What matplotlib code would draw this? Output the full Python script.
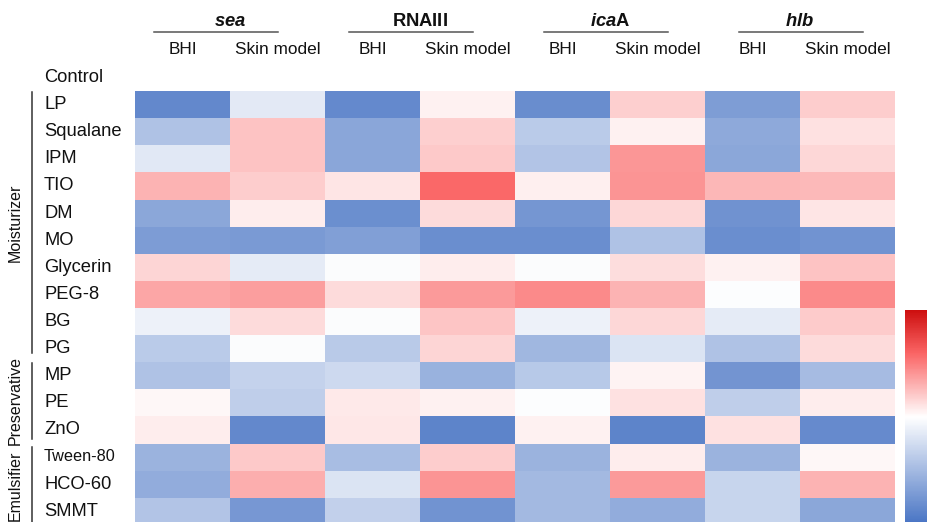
import numpy as np
import matplotlib
matplotlib.use("Agg")
import matplotlib.pyplot as plt
from matplotlib.colors import LinearSegmentedColormap, Normalize
from matplotlib.cm import ScalarMappable
from matplotlib.lines import Line2D
from matplotlib.transforms import blended_transform_factory

plt.rcParams['font.family'] = ['Liberation Sans', 'DejaVu Sans']
plt.rcParams['mathtext.fontset'] = 'custom'
plt.rcParams['mathtext.it'] = 'Liberation Sans:italic:bold'
plt.rcParams['mathtext.bf'] = 'Liberation Sans:bold'

genes = [r"$\mathit{sea}$", r"$\mathbf{RNAIII}$", r"$\mathit{ica}\mathbf{A}$", r"$\mathit{hlb}$"]
media = ["BHI", "Skin model"]
rows = ["Control", "LP", "Squalane", "IPM", "TIO", "DM", "MO", "Glycerin",
        "PEG-8", "BG", "PG", "MP", "PE", "ZnO", "Tween-80", "HCO-60", "SMMT"]
groups = ["Moisturizer", "Preservative", "Emulsifier"]

# relative expression, columns: sea BHI/Skin, RNAIII BHI/Skin, icaA BHI/Skin, hlb BHI/Skin
control = [np.nan] * 8
lp = [-0.85, -0.15, -0.84, 0.05, -0.82, 0.18, -0.70, 0.19]
squalane = [-0.43, 0.23, -0.64, 0.18, -0.37, 0.05, -0.61, 0.11]
ipm = [-0.16, 0.23, -0.64, 0.21, -0.42, 0.40, -0.63, 0.15]
tio = [0.29, 0.19, 0.10, 0.58, 0.06, 0.41, 0.28, 0.27]
dm = [-0.63, 0.07, -0.80, 0.14, -0.75, 0.15, -0.78, 0.10]
mo = [-0.71, -0.72, -0.68, -0.81, -0.81, -0.43, -0.81, -0.77]
glycerin = [0.16, -0.14, -0.02, 0.07, -0.02, 0.13, 0.05, 0.23]
peg8 = [0.34, 0.37, 0.14, 0.39, 0.45, 0.29, -0.01, 0.45]
bg = [-0.10, 0.14, -0.02, 0.22, -0.10, 0.15, -0.14, 0.20]
pg = [-0.37, -0.02, -0.38, 0.16, -0.51, -0.19, -0.43, 0.14]
mp = [-0.43, -0.32, -0.27, -0.55, -0.39, 0.04, -0.76, -0.48]
pe = [0.03, -0.35, 0.08, 0.05, -0.01, 0.11, -0.35, 0.07]
zno = [0.07, -0.85, 0.09, -0.88, 0.05, -0.88, 0.11, -0.83]
tween80 = [-0.54, 0.21, -0.47, 0.19, -0.54, 0.07, -0.54, 0.03]
hco60 = [-0.59, 0.31, -0.19, 0.41, -0.50, 0.39, -0.30, 0.29]
smmt = [-0.42, -0.74, -0.33, -0.77, -0.50, -0.59, -0.30, -0.63]

values = np.array([control, lp, squalane, ipm, tio, dm, mo, glycerin, peg8,
                   bg, pg, mp, pe, zno, tween80, hco60, smmt])

cmap = LinearSegmentedColormap.from_list("bwr_soft", [
    (0.0, (72/255, 116/255, 196/255)),
    (0.5, (1, 1, 1)),
    (0.8, (250/255, 100/255, 100/255)),
    (1.0, (205/255, 15/255, 15/255)),
])
cmap.set_bad("white")
norm = Normalize(-1, 1)

W, H = 927, 522
fig = plt.figure(figsize=(W / 100, H / 100), dpi=100)
nrow, ncol = values.shape
top_px, row_h = 64, 27.1
ax = fig.add_axes([135 / W, 1 - (top_px + nrow * row_h) / H, 760 / W, nrow * row_h / H])
ax.imshow(np.ma.masked_invalid(values), cmap=cmap, norm=norm, aspect='auto',
          interpolation='nearest', extent=(0, ncol, nrow, 0))
ax.set_xlim(0, ncol)
ax.set_ylim(nrow, 0)
ax.axis('off')

# row labels, left aligned
ytr = ax.get_yaxis_transform()
for i, name in enumerate(rows):
    fs = 11.7 if name == "Tween-80" else 13.2
    ax.text((44 - 135) / 760, i + 0.5, name, transform=ytr, ha='left', va='center',
            fontsize=fs, color='#111111', clip_on=False)

# medium labels above each column
xtr = blended_transform_factory(ax.transData, fig.transFigure)
for j in range(ncol):
    ax.text(j + 0.5, 1 - 49 / H, media[j % 2], transform=xtr, ha='center', va='center',
            fontsize=12.4, color='#111111', clip_on=False)

# gene titles with underline
for k, title in enumerate(genes):
    ax.text(2 * k + 1, 1 - 22 / H, title, transform=xtr, ha='center', va='center',
            fontsize=13.2, color='#111111', clip_on=False)
    x0 = 154 + 195 * k
    fig.add_artist(Line2D([x0 / W, (x0 + 124) / W], [1 - 32 / H] * 2,
                          color='#555555', lw=1.1))

# group brackets on the left
spans = [(1.03, 10.66), (11.03, 13.84), (14.13, 17.0)]
for name, (y0, y1) in zip(groups, spans):
    ax.add_line(Line2D([(32 - 135) / 760] * 2, [y0, y1], transform=ytr,
                       color='#333333', lw=1.1, clip_on=False))
    ax.text((15 - 135) / 760, (y0 + y1) / 2, name, transform=ytr, rotation=90,
            ha='center', va='center', fontsize=11.5, color='#111111', clip_on=False)

# colour key, no ticks
cax = fig.add_axes([905 / W, -2 / H, 25 / W, 214 / H])
cb = fig.colorbar(ScalarMappable(norm=norm, cmap=cmap), cax=cax)
cb.outline.set_visible(False)
cb.set_ticks([])

fig.savefig("out.png", dpi=100)
